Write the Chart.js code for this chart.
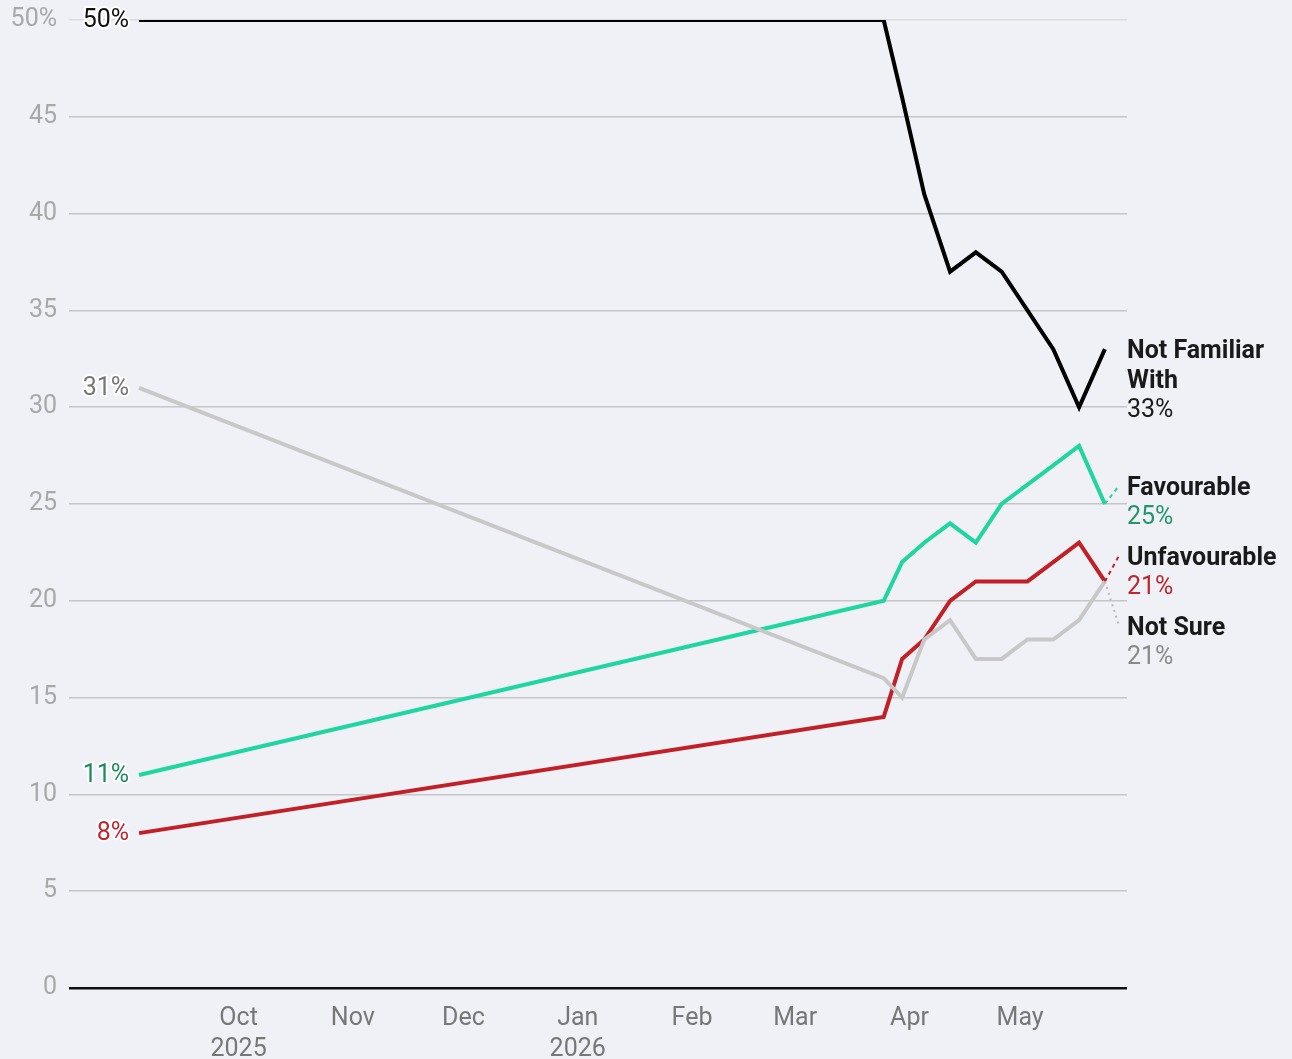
<!DOCTYPE html>
<html>
<head>
<meta charset="utf-8">
<script src="https://cdn.jsdelivr.net/npm/chart.js@4.4.1/dist/chart.umd.min.js"></script>
<style>
  html, body { margin: 0; padding: 0; background: #eff1f7; }
  canvas { display: block; }
</style>
</head>
<body>
<canvas id="chart" width="1292" height="1059"></canvas>
<script>
// sondage : notoriété / opinion, points hebdo à partir de fin mars
const dates = ['2025-09-04', '2026-03-25', '2026-03-30', '2026-04-05', '2026-04-12', '2026-04-19',
               '2026-04-26', '2026-05-03', '2026-05-10', '2026-05-17', '2026-05-24'];

const notFamiliar  = [50, 50, 46, 41, 37, 38, 37, 35, 33, 30, 33];
const favourable   = [11, 20, 22, 23, 24, 23, 25, 26, 27, 28, 25];
const unfavourable = [8, 14, 17, 18, 20, 21, 21, 21, 22, 23, 21];
const notSure      = [31, 16, 15, 18, 19, 17, 17, 18, 18, 19, 21];

const seriesTitles = [['Not Familiar', 'With'], ['Favourable'], ['Unfavourable'], ['Not Sure']];

const monthTicks  = ['2025-10-01', '2025-11-01', '2025-12-01', '2026-01-01',
                     '2026-02-01', '2026-03-01', '2026-04-01', '2026-05-01'];
const monthLabels = [['Oct', '2025'], 'Nov', 'Dec', ['Jan', '2026'], 'Feb', 'Mar', 'Apr', 'May'];

const xStart = '2025-08-16';
const xEnd   = '2026-05-30';

const yTickValues = [0, 5, 10, 15, 20, 25, 30, 35, 40, 45, 50];
const yTickLabels = ['0', '5', '10', '15', '20', '25', '30', '35', '40', '45', '50%'];

const lineColors  = ['#000000', '#1fd6a0', '#c21f26', '#c8c8c8'];
const textColors  = ['#1a1a1a', '#23966c', '#c0262d', '#8a8a8a'];
const startColors = ['#111111', '#1e8a5c', '#c0272d', '#777777'];

const FONT = 'Roboto, "Noto Sans", sans-serif';

function dayNum(s) {
  const [y, m, d] = s.split('-').map(Number);
  return Date.UTC(y, m - 1, d) / 86400000;
}

const xs = dates.map(dayNum);
const allSeries = [notFamiliar, favourable, unfavourable, notSure];

function toPoints(vals) {
  return vals.map((v, i) => ({ x: xs[i], y: v }));
}

// étiquettes de fin de courbe + départ, avec évitement des chevauchements
const labelPlugin = {
  id: 'labelPlugin',
  afterDatasetsDraw(chart) {
    const { ctx, scales: { x, y } } = chart;
    const lineH = 29.5;
    const gap = 11;
    const labelX = x.right;
    const textShift = 3; // Roboto un peu haut avec baseline middle

    // 1re ligne du titre voulue à hauteur de la dernière valeur
    const items = allSeries.map((vals, i) => ({
      i,
      want: y.getPixelForValue(vals[vals.length - 1]),
      h: (seriesTitles[i].length + 1) * lineH,
      pos: 0,
    })).sort((a, b) => a.want - b.want);

    const place = c => {
      let off = 0;
      const offs = c.items.map(it => { const o = off; off += it.h + gap; return o; });
      const top = c.items.reduce((s, it, k) => s + (it.want - offs[k]), 0) / c.items.length;
      c.items.forEach((it, k) => { it.pos = top + offs[k]; });
    };
    let clusters = items.map(it => ({ items: [it] }));
    clusters.forEach(place);
    let merged = true;
    while (merged) {
      merged = false;
      for (let k = 0; k < clusters.length - 1; k++) {
        const aLast = clusters[k].items[clusters[k].items.length - 1];
        const bFirst = clusters[k + 1].items[0];
        const aEnd = aLast.pos - lineH / 2 + aLast.h;
        const bStart = bFirst.pos - lineH / 2;
        if (aEnd + gap > bStart) {
          const c = { items: clusters[k].items.concat(clusters[k + 1].items) };
          place(c);
          clusters.splice(k, 2, c);
          merged = true;
          break;
        }
      }
    }

    ctx.save();
    items.forEach(it => {
      const i = it.i;
      const vals = allSeries[i];
      const px = x.getPixelForValue(xs[xs.length - 1]);
      const py = y.getPixelForValue(vals[vals.length - 1]);

      // trait pointillé vers l'étiquette si décalée
      if (Math.abs(it.pos - py) > 3) {
        ctx.beginPath();
        ctx.setLineDash(i === 3 ? [2, 4] : [4, 4]);
        ctx.lineWidth = 2;
        ctx.strokeStyle = i === 3 ? '#b8b8b8' : lineColors[i];
        ctx.moveTo(px, py);
        ctx.lineTo(labelX - 8, it.pos);
        ctx.stroke();
        ctx.setLineDash([]);
      }

      ctx.textAlign = 'left';
      ctx.textBaseline = 'middle';
      let ly = it.pos + textShift;
      ctx.font = 'bold 25px ' + FONT;
      ctx.fillStyle = '#1a1a1a';
      seriesTitles[i].forEach(t => { ctx.fillText(t, labelX, ly); ly += lineH; });
      ctx.font = '25px ' + FONT;
      ctx.fillStyle = textColors[i];
      ctx.fillText(vals[vals.length - 1] + '%', labelX, ly);
    });

    // valeurs de départ à gauche
    ctx.font = '25px ' + FONT;
    ctx.textAlign = 'right';
    ctx.textBaseline = 'middle';
    ctx.lineJoin = 'round';
    allSeries.forEach((vals, i) => {
      const px = x.getPixelForValue(xs[0]) - 10;
      const py = y.getPixelForValue(vals[0]) + 1;
      ctx.strokeStyle = '#ffffff';
      ctx.lineWidth = 4;
      ctx.strokeText(vals[0] + '%', px, py);
      ctx.fillStyle = startColors[i];
      ctx.fillText(vals[0] + '%', px, py);
    });
    ctx.restore();
  }
};

new Chart(document.getElementById('chart'), {
  type: 'line',
  data: {
    datasets: allSeries.map((vals, i) => ({
      label: seriesTitles[i].join(' '),
      data: toPoints(vals),
      borderColor: lineColors[i],
      borderWidth: 4,
      pointRadius: 0,
      tension: 0,
      order: i === 0 ? 0 : 4 - i,
    })),
  },
  options: {
    responsive: false,
    animation: false,
    layout: { padding: { top: 20, right: 165, left: 0, bottom: 0 } },
    plugins: { legend: { display: false }, tooltip: { enabled: false } },
    scales: {
      x: {
        type: 'linear',
        min: dayNum(xStart),
        max: dayNum(xEnd),
        afterBuildTicks: scale => { scale.ticks = monthTicks.map(m => ({ value: dayNum(m) })); },
        afterFit: scale => { scale.height = 71; scale.paddingLeft = 0; scale.paddingRight = 0; },
        grid: { display: false, drawTicks: false },
        border: { display: false },
        ticks: {
          autoSkip: false,
          maxRotation: 0,
          padding: 15,
          color: '#777777',
          font: { family: FONT, size: 25, lineHeight: 1.24 },
          callback: (v, idx) => monthLabels[idx],
        },
      },
      y: {
        min: 0,
        max: 50,
        afterBuildTicks: scale => { scale.ticks = yTickValues.map(v => ({ value: v })); },
        afterFit: scale => { scale.width = 69; scale.paddingTop = 0; scale.paddingBottom = 0; },
        grid: {
          drawTicks: false,
          color: c => c.tick.value === 0 ? '#111111' : (c.tick.value === 50 ? '#dcdcdc' : '#c6c6c6'),
          lineWidth: c => c.tick.value === 0 ? 2.5 : 1.5,
        },
        border: { display: false },
        ticks: {
          padding: 12,
          color: '#a8a8a8',
          font: { family: FONT, size: 25 },
          callback: (v, idx) => yTickLabels[idx],
        },
      },
    },
  },
  plugins: [labelPlugin],
});
</script>
</body>
</html>
